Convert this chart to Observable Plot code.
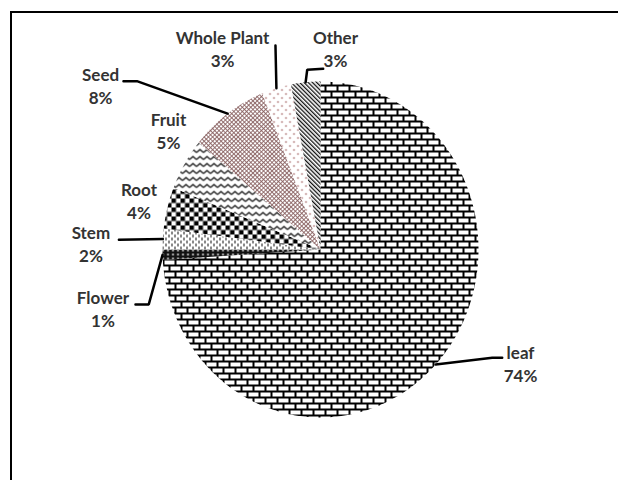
<!DOCTYPE html>
<html><head><meta charset="utf-8">
<script src="https://cdn.jsdelivr.net/npm/d3@7"></script>
<script src="https://cdn.jsdelivr.net/npm/@observablehq/plot@0.6"></script>
<style>
html,body{margin:0;padding:0;background:#fff;}
#wrap{position:relative;width:618px;height:480px;overflow:hidden;}
#frame{position:absolute;left:10px;top:11px;width:620px;height:480px;border-top:2px solid #000;border-left:2px solid #000;}
#chart{position:absolute;left:0;top:0;}
</style></head><body>
<div id="wrap"><div id="chart"></div><div id="frame"></div></div>
<script>
// ---- data ----
const categories = ["leaf", "Flower", "Stem", "Root", "Fruit", "Seed", "Whole Plant", "Other"];
const shares = [74, 1, 2, 4, 5, 8, 3, 3];
const percentLabels = ["74%", "1%", "2%", "4%", "5%", "8%", "3%", "3%"];

// ---- layout / style (pie-radius units) ----
const patternIds = ["brick", "beads", "dashes", "checker", "zigzag", "lattice", "dots", "diag"];
const labelPos = [[1.266, -0.651], [-1.377, -0.327], [-1.453, 0.064], [-1.149, 0.321],
                  [-0.962, 0.738], [-1.392, 1.002], [-0.620, 1.223], [0.095, 1.223]];
const leaderBends = [[[1.087, -0.645], [1.150, -0.645]], [[-1.087, -0.327], [-1.171, -0.327]],
                     [[-1.276, 0.058]], null, null, [[-1.162, 1.002], [-1.247, 1.002]],
                     [[-0.285, 1.214]], [[-0.084, 1.070], [0.017, 1.076]]];

const arcs = d3.pie().sort(null).value(d => d)(shares);
const slices = arcs.map(a => {
  const n = Math.max(4, Math.ceil((a.endAngle - a.startAngle) / 0.01));
  const pts = [{u: 0, v: 0}];
  for (let k = 0; k <= n; ++k) {
    const t = a.startAngle + (a.endAngle - a.startAngle) * k / n;
    pts.push({u: Math.sin(t), v: Math.cos(t)});
  }
  return pts;
});
const leaders = arcs.map((a, i) => {
  if (!leaderBends[i]) return null;
  const m = (a.startAngle + a.endAngle) / 2;
  return [{u: Math.sin(m), v: Math.cos(m)}, ...leaderBends[i].map(([u, v]) => ({u, v}))];
}).filter(d => d);
const labels = categories.map((c, i) => ({name: c, pct: percentLabels[i], u: labelPos[i][0], v: labelPos[i][1]}));

const fs = 17;
const textOpts = {x: "u", y: "v", textAnchor: "middle", lineAnchor: "middle", fontSize: fs,
  fontWeight: "bold", fontFamily: "Lato", fill: "#333"};

const chart = Plot.plot({
  width: 618, height: 480, margin: 0,
  style: {fontFamily: "Lato", background: "transparent"},
  x: {domain: [-1, 1], range: [162, 478], axis: null},
  y: {domain: [-1, 1], range: [417, 81], axis: null},
  marks: [
    ...slices.map((pts, i) => Plot.line(pts, {x: "u", y: "v", fill: `url(#p-${patternIds[i]})`, stroke: "none"})),
    ...leaders.map(pts => Plot.line(pts, {x: "u", y: "v", stroke: "#000", strokeWidth: 2.5, strokeLinejoin: "miter"})),
    Plot.text(labels, {...textOpts, text: "name", dy: -0.32 * fs}),
    Plot.text(labels, {...textOpts, text: "pct", dy: 23 - 0.32 * fs})
  ]
});

const defs = d3.select(chart).insert("defs", ":first-child");
function pattern(id, w, h, transform, bg) {
  const p = defs.append("pattern").attr("id", "p-" + id).attr("patternUnits", "userSpaceOnUse")
    .attr("width", w).attr("height", h);
  if (transform) p.attr("patternTransform", transform);
  p.append("rect").attr("width", w).attr("height", h).attr("fill", bg);
  return p;
}
function rect(p, x, y, w, h, fill, crisp) {
  const r = p.append("rect").attr("x", x).attr("y", y).attr("width", w).attr("height", h).attr("fill", fill);
  if (crisp) r.attr("shape-rendering", "crispEdges");
}
// brick (leaf)
let p = pattern("brick", 12, 12, null, "#fff");
rect(p, 0, 0, 12, 1.5, "#000", 1); rect(p, 0, 6, 12, 1.5, "#000", 1);
rect(p, 0, 0, 1.5, 6, "#000", 1); rect(p, 6, 6, 1.5, 6, "#000", 1);
// beads (flower)
p = pattern("beads", 5, 4, null, "#111");
p.append("circle").attr("cx", 2.5).attr("cy", 2).attr("r", 0.9).attr("fill", "#fff");
// dashes (stem)
p = pattern("dashes", 6, 6, null, "#fff");
rect(p, 0, 0, 1, 3, "#111", 1); rect(p, 3, 3, 1, 3, "#111", 1);
// checker (root)
p = pattern("checker", 9, 9, null, "#fff");
rect(p, 0, 0, 4.5, 4.5, "#000"); rect(p, 4.5, 4.5, 4.5, 4.5, "#000");
// zigzag (fruit)
p = pattern("zigzag", 7, 7, null, "#fff");
p.append("path").attr("d", "M0,5L3.5,2L7,5").attr("fill", "none").attr("stroke", "#000").attr("stroke-width", 1.2);
// lattice (seed)
p = pattern("lattice", 3, 3, "rotate(45)", "#fff");
rect(p, 0, 0, 0.9, 3, "#8a6262"); rect(p, 0, 0, 3, 0.9, "#8a6262");
// dots (whole plant)
p = pattern("dots", 8, 8, null, "#fff");
p.append("circle").attr("cx", 1.5).attr("cy", 1.5).attr("r", 0.8).attr("fill", "#8b3a3a");
p.append("circle").attr("cx", 5.5).attr("cy", 5.5).attr("r", 0.8).attr("fill", "#8b3a3a");
// diagonal (other)
p = pattern("diag", 3, 3, "rotate(-45)", "#fff");
rect(p, 0, 0, 1.3, 3, "#111");

document.getElementById("chart").appendChild(chart);
</script>
</body></html>
